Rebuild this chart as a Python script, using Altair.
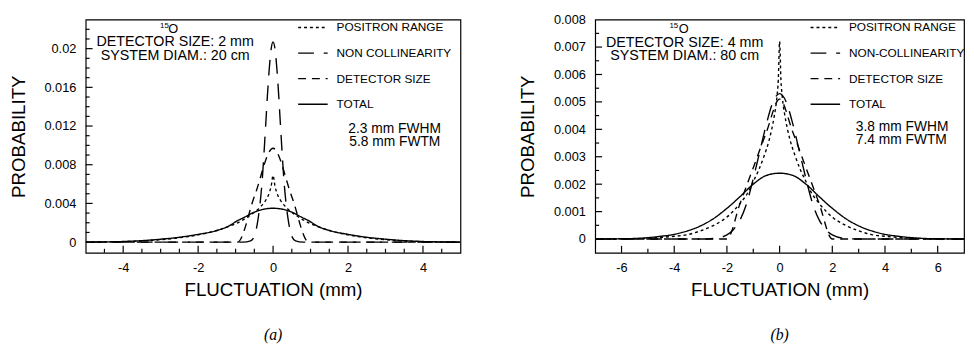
import altair as alt
import pandas as pd

FONT = "Liberation Sans"

SERIES_A = ["POSITRON RANGE", "NON COLLINEARITY", "DETECTOR SIZE", "TOTAL"]
SERIES_B = ["POSITRON RANGE", "NON-COLLINEARITY", "DETECTOR SIZE", "TOTAL"]

# ---------------- panel (a) ----------------
pos_a_x = [-5, -4.5, -4, -3.5, -3, -2.5, -2, -1.5, -1.2, -1, -0.8, -0.6, -0.4, -0.3, -0.2, -0.1, -0.05, 0,
           0.05, 0.1, 0.2, 0.3, 0.4, 0.6, 0.8, 1, 1.2, 1.5, 2, 2.5, 3, 3.5, 4, 4.5, 5]
pos_a_y = [0, 0.00002, 0.00005, 0.00012, 0.00025, 0.00045, 0.00075, 0.0012, 0.0016, 0.0019, 0.0023, 0.0028,
           0.0034, 0.0038, 0.0043, 0.0051, 0.0058, 0.0069,
           0.0058, 0.0051, 0.0043, 0.0038, 0.0034, 0.0028, 0.0023, 0.0019, 0.0016, 0.0012, 0.00075, 0.00045,
           0.00025, 0.00012, 0.00005, 0.00002, 0]

ncol_a_x = [-5, -0.8, -0.6, -0.5, -0.4, -0.3, -0.2, -0.15, -0.1, -0.05, 0, 0.05, 0.1, 0.15, 0.2, 0.3, 0.4,
            0.5, 0.6, 0.8, 5]
ncol_a_y = [0, 0, 0.00013, 0.0006, 0.0024, 0.0059, 0.0119, 0.0152, 0.0180, 0.0200, 0.0207, 0.0200, 0.0180,
            0.0152, 0.0119, 0.0059, 0.0024, 0.0006, 0.00013, 0, 0]

det_a_x = [-5, -0.95, -0.5, 0, 0.5, 0.95, 5]
det_a_y = [0, 0, 0.0047, 0.0097, 0.0047, 0, 0]

tot_a_x = [-5, -4.5, -4, -3.5, -3, -2.5, -2, -1.5, -1.15, -1, -0.75, -0.5, -0.25, 0, 0.25, 0.5, 0.75, 1,
           1.15, 1.5, 2, 2.5, 3, 3.5, 4, 4.5, 5]
tot_a_y = [0, 0.00002, 0.00006, 0.00015, 0.0003, 0.0005, 0.0008, 0.0012, 0.00172, 0.0021, 0.0026, 0.0031,
           0.0034, 0.0035, 0.0034, 0.0031, 0.0026, 0.0021, 0.00172, 0.0012, 0.0008, 0.0005, 0.0003, 0.00015,
           0.00006, 0.00002, 0]

a_xlabels = [-4, -2, 0, 2, 4]
a_ylabels = [0, 0.004, 0.008, 0.012, 0.016, 0.02]
a_xmajor = [-4, -2, 0, 2, 4]
a_xminor = [-4.5, -3.5, -3, -2.5, -1.5, -1, -0.5, 0.5, 1, 1.5, 2.5, 3, 3.5, 4.5]
a_ymajor = [0.004, 0.008, 0.012, 0.016, 0.02]
a_yminor = [0.001, 0.002, 0.003, 0.005, 0.006, 0.007, 0.009, 0.010, 0.011, 0.013, 0.014, 0.015,
            0.017, 0.018, 0.019, 0.021, 0.022]

# ---------------- panel (b) ----------------
pos_b_x = [-7, -5.5, -5, -4.5, -4, -3.5, -3, -2.5, -2, -1.5, -1.2, -1, -0.8, -0.6, -0.4, -0.3, -0.2, -0.1,
           -0.05, 0, 0.05, 0.1, 0.2, 0.3, 0.4, 0.6, 0.8, 1, 1.2, 1.5, 2, 2.5, 3, 3.5, 4, 4.5, 5, 5.5, 7]
pos_b_y = [0, 0.00001, 0.00003, 0.00006, 0.0001, 0.00016, 0.0003, 0.0005, 0.0008, 0.0013, 0.0017, 0.0021,
           0.0025, 0.003, 0.0036, 0.004, 0.0045, 0.0052, 0.0058, 0.0072,
           0.0058, 0.0052, 0.0045, 0.004, 0.0036, 0.003, 0.0025, 0.0021, 0.0017, 0.0013, 0.0008, 0.0005,
           0.0003, 0.00016, 0.0001, 0.00006, 0.00003, 0.00001, 0]

ncol_b_x = [-7, -3, -2.5, -2, -1.75, -1.5, -1.25, -1, -0.75, -0.5, -0.25, 0, 0.25, 0.5, 0.75, 1, 1.25,
            1.5, 1.75, 2, 2.5, 3, 7]
ncol_b_y = [0, 0, 0.00002, 0.00015, 0.00035, 0.0007, 0.0013, 0.0022, 0.0032, 0.0042, 0.0050, 0.0053,
            0.0050, 0.0042, 0.0032, 0.0022, 0.0013, 0.0007, 0.00035, 0.00015, 0.00002, 0, 0]

det_b_x = [-7, -2, -1.5, -1, -0.5, 0, 0.5, 1, 1.5, 2, 7]
det_b_y = [0, 0, 0.0013, 0.0026, 0.0039, 0.0051, 0.0039, 0.0026, 0.0013, 0, 0]

tot_b_x = [-7, -6, -5.5, -5, -4.5, -4, -3.7, -3, -2.5, -2, -1.9, -1.5, -1, -0.5, 0, 0.5, 1, 1.5, 1.9, 2,
           2.5, 3, 3.7, 4, 4.5, 5, 5.5, 6, 7]
tot_b_y = [0, 0.00001, 0.00002, 0.00005, 0.0001, 0.00017, 0.00024, 0.00048, 0.00075, 0.00112, 0.0012,
           0.00155, 0.002, 0.00232, 0.0024, 0.00232, 0.002, 0.00155, 0.0012, 0.00112, 0.00075, 0.00048,
           0.00024, 0.00017, 0.0001, 0.00005, 0.00002, 0.00001, 0]

b_xlabels = [-6, -4, -2, 0, 2, 4, 6]
b_ylabels = [0, 0.001, 0.002, 0.003, 0.004, 0.005, 0.006, 0.007, 0.008]
b_xmajor = [-6, -4, -2, 0, 2, 4, 6]
b_xminor = [-5, -3, -1, 1, 3, 5]
b_ymajor = [0.001, 0.002, 0.003, 0.004, 0.005, 0.006, 0.007]
b_yminor = [0.0005, 0.0015, 0.0025, 0.0035, 0.0045, 0.0055, 0.0065, 0.0075]

DASHES = [[3, 3], [16, 10], [8, 6], [1, 0]]


def long_df(parts):
    rows = []
    for name, xs, ys in parts:
        for x, y in zip(xs, ys):
            rows.append({"x": x, "y": y, "series": name})
    return pd.DataFrame(rows)


def note(text, x, y, size, align="center", font=FONT):
    return alt.Chart(alt.Data(values=[{}])).mark_text(
        text=text, x=x, y=y, fontSize=size, font=font, align=align, baseline="middle", color="black"
    )


def panel(df, order, xdom, ydom, xlabels, ylabels, xmaj, xmin, ymaj, ymin, W, H, legx, notes, caption):
    xs = alt.Scale(domain=xdom, nice=False, zero=False)
    ys = alt.Scale(domain=ydom, nice=False, zero=False)
    xaxis = alt.Axis(values=xlabels, title="FLUCTUATION (mm)", labelExpr="'' + datum.value")
    yaxis = alt.Axis(values=ylabels, title="PROBABILITY",
                     labelExpr="datum.value == 0 ? '0' : format(datum.value, '.3~f')")
    lines = alt.Chart(df).mark_line(color="black", strokeWidth=1.4, clip=True, interpolate="monotone").encode(
        x=alt.X("x:Q", scale=xs, axis=xaxis),
        y=alt.Y("y:Q", scale=ys, axis=yaxis),
        strokeDash=alt.StrokeDash(
            "series:N",
            scale=alt.Scale(domain=order, range=DASHES),
            sort=order,
            legend=alt.Legend(title=None, orient="none", legendX=legx, legendY=-8, symbolType="stroke",
                              symbolSize=900, symbolStrokeWidth=1.4, symbolStrokeColor="black",
                              labelFont=FONT, labelFontSize=12, labelColor="black", labelOffset=8,
                              rowPadding=4, padding=0),
        ),
    )
    # inward tick marks on the left and bottom frame edges, positioned by the scales
    yt_maj = alt.Chart(pd.DataFrame({"tv": ymaj})).mark_rule(color="black", strokeWidth=1.2).encode(
        y=alt.Y("tv:Q", scale=ys, axis=yaxis), x=alt.value(0), x2=alt.value(7))
    yt_min = alt.Chart(pd.DataFrame({"tv": ymin})).mark_rule(color="black", strokeWidth=1.2).encode(
        y=alt.Y("tv:Q", scale=ys, axis=yaxis), x=alt.value(0), x2=alt.value(4))
    xt_maj = alt.Chart(pd.DataFrame({"tv": xmaj})).mark_rule(color="black", strokeWidth=1.2).encode(
        x=alt.X("tv:Q", scale=xs, axis=xaxis), y=alt.value(H), y2=alt.value(H - 7))
    xt_min = alt.Chart(pd.DataFrame({"tv": xmin})).mark_rule(color="black", strokeWidth=1.2).encode(
        x=alt.X("tv:Q", scale=xs, axis=xaxis), y=alt.value(H), y2=alt.value(H - 4))
    return alt.layer(lines, yt_maj, yt_min, xt_maj, xt_min, *notes).properties(
        width=W, height=H,
        title=alt.Title(caption, orient="bottom", font="Liberation Serif", fontStyle="italic",
                        fontWeight="normal", fontSize=16, offset=29, color="black", anchor="middle"),
    )


df_a = long_df([
    (SERIES_A[0], pos_a_x, pos_a_y),
    (SERIES_A[1], ncol_a_x, ncol_a_y),
    (SERIES_A[2], det_a_x, det_a_y),
    (SERIES_A[3], tot_a_x, tot_a_y),
])
df_b = long_df([
    (SERIES_B[0], pos_b_x, pos_b_y),
    (SERIES_B[1], ncol_b_x, ncol_b_y),
    (SERIES_B[2], det_b_x, det_b_y),
    (SERIES_B[3], tot_b_x, tot_b_y),
])

H = 237
notes_a = [
    note("15", 80, 7, 8),
    note("O", 89, 10, 13),
    note("DETECTOR SIZE:  2 mm", 91, 23, 14.5),
    note("SYSTEM DIAM.:  20 cm", 91, 37, 14.5),
    note("2.3 mm FWHM", 267, 111, 14, align="left"),
    note("5.8 mm FWTM", 268, 124, 14, align="left"),
]
notes_b = [
    note("15", 80, 7, 8),
    note("O", 90, 10, 13),
    note("DETECTOR SIZE:  4 mm", 91, 24, 14.5),
    note("SYSTEM DIAM.:  80 cm", 91, 37, 14.5),
    note("3.8 mm FWHM", 265, 109, 14, align="left"),
    note("7.4 mm FWTM", 265, 122, 14, align="left"),
]

pa = panel(df_a, SERIES_A, [-5, 5], [-0.0011, 0.023], a_xlabels, a_ylabels, a_xmajor, a_xminor,
           a_ymajor, a_yminor, 381, H, 215, notes_a, "(a)")
pb = panel(df_b, SERIES_B, [-7, 7], [-0.0005, 0.008], b_xlabels, b_ylabels, b_xmajor, b_xminor,
           b_ymajor, b_yminor, 375, H, 218, notes_b, "(b)")

chart = alt.hconcat(pa, pb, spacing=57).resolve_scale(
    x="independent", y="independent", strokeDash="independent"
).resolve_legend(strokeDash="independent").properties(
    padding={"left": 0, "top": 0, "right": 0, "bottom": 0}, background="white"
).configure_view(
    stroke="black", strokeWidth=1.2
).configure_axis(
    domain=False, grid=False, ticks=False, tickSize=0,
    labelFont=FONT, labelFontSize=13, labelColor="black",
    titleFont=FONT, titleFontSize=19, titleFontWeight="normal", titleColor="black",
).configure_axisX(
    labelPadding=9, titlePadding=6
).configure_axisY(
    labelPadding=10, titlePadding=16
)

chart.save("out.html", embed_options={"renderer": "svg", "actions": False})
